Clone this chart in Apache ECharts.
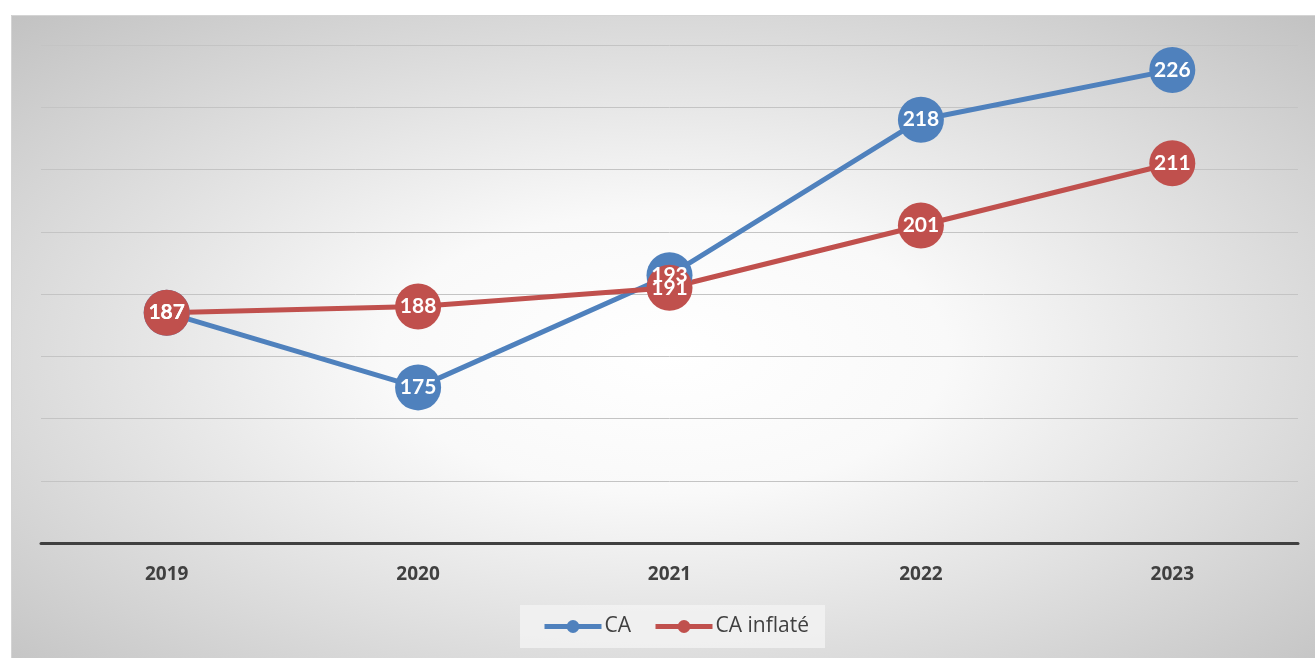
<!DOCTYPE html>
<html>
<head>
<meta charset="utf-8">
<script src="https://cdn.jsdelivr.net/npm/echarts@6/dist/echarts.min.js"></script>
<style>
html,body{margin:0;padding:0;background:#fff;}
#c{width:1315px;height:658px;}
</style>
</head>
<body>
<div id="c"></div>
<script>
const categories = ['2019', '2020', '2021', '2022', '2023'];
const caValues = [187, 175, 193, 218, 226];
const caInflateValues = [187, 188, 191, 201, 211];
const seriesNames = ['CA', 'CA inflaté'];

const chart = echarts.init(document.getElementById('c'));
const labelStyle = {
  show: true, position: 'inside', color: '#ffffff', fontWeight: 'bold',
  fontSize: 21, fontFamily: 'Lato, "Open Sans", sans-serif'
};
const W = 1310, H = 650;
chart.setOption({
  animation: false,
  graphic: {
    elements: [
      {
        type: 'rect', z: -100, silent: true,
        x: 11, y: 15, scaleX: 1, scaleY: H / W,
        shape: { x: 0, y: 0, width: W, height: W },
        style: {
          fill: new echarts.graphic.RadialGradient(0.5, 0.52, 0.72, [
            { offset: 0, color: '#ffffff' },
            { offset: 0.3, color: '#f9f9f9' },
            { offset: 1, color: '#c2c2c2' }
          ])
        }
      },
      {
        type: 'rect', z: -99, silent: true,
        shape: { x: 11.5, y: 15.5, width: W, height: H },
        style: { fill: null, stroke: '#d4d4d4', lineWidth: 1 }
      }
    ]
  },
  grid: { left: 41, right: 17, top: 45, bottom: 115, containLabel: false },
  legend: {
    data: seriesNames, top: 605, left: 520,
    backgroundColor: 'rgba(242,242,242,0.85)',
    padding: [11, 16, 11, 22],
    itemWidth: 57, itemHeight: 16, itemGap: 22,
    lineStyle: { width: 5 },
    textStyle: { fontSize: 21, color: '#404040', fontFamily: '"Open Sans", Lato, sans-serif', padding: [0, 0, 0, -2] }
  },
  xAxis: {
    type: 'category', data: categories, boundaryGap: true,
    axisLine: { lineStyle: { color: '#404040', width: 3 } },
    axisTick: { show: false },
    axisLabel: { fontSize: 19, fontWeight: 'bold', color: '#404040', margin: 22, fontFamily: '"Open Sans", Lato, sans-serif' }
  },
  yAxis: {
    type: 'value', min: 150, max: 230, interval: 10,
    axisLabel: { show: false }, axisLine: { show: false }, axisTick: { show: false },
    splitLine: { lineStyle: { color: '#c4c4c4', width: 1 } }
  },
  series: [
    {
      name: seriesNames[0], type: 'line', data: caValues,
      symbol: 'circle', symbolSize: 46,
      itemStyle: { color: '#4f81bd' },
      lineStyle: { color: '#4f81bd', width: 5 },
      label: labelStyle
    },
    {
      name: seriesNames[1], type: 'line', data: caInflateValues,
      symbol: 'circle', symbolSize: 46,
      itemStyle: { color: '#c0504d' },
      lineStyle: { color: '#c0504d', width: 5 },
      label: labelStyle
    }
  ]
});
</script>
</body>
</html>
